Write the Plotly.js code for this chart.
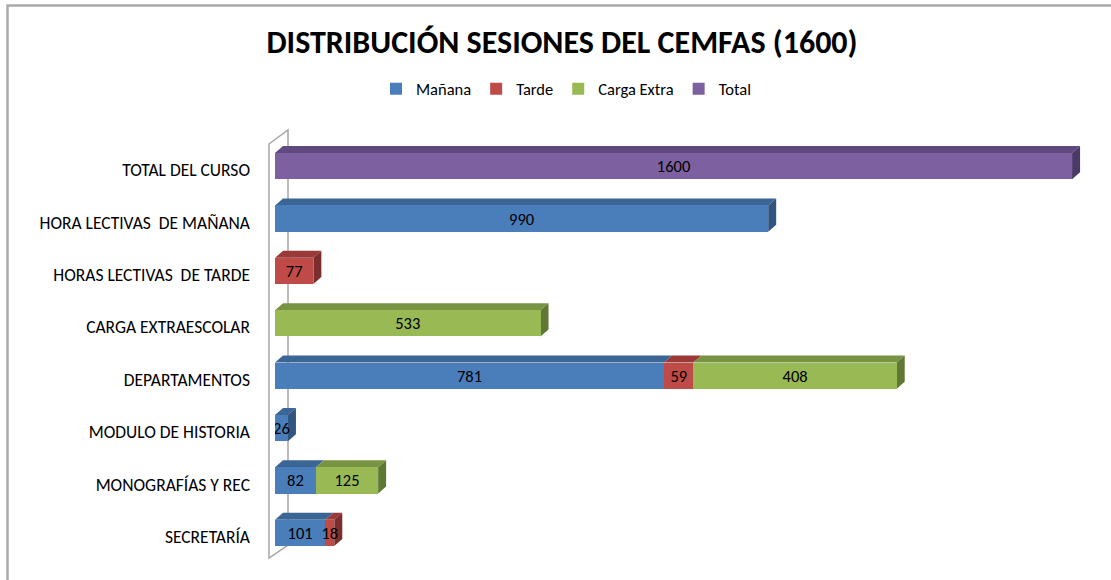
<!DOCTYPE html>
<html>
<head>
<meta charset="utf-8">
<script src="https://cdn.plot.ly/plotly-3.0.1.min.js"></script>
<style>
  html, body { margin: 0; padding: 0; background: #fff; }
  #chart { width: 1111px; height: 580px; }
</style>
</head>
<body>
<div id="chart"></div>
<script>
const categories = [
  "TOTAL DEL CURSO",
  "HORA LECTIVAS  DE MAÑANA",
  "HORAS LECTIVAS  DE TARDE",
  "CARGA EXTRAESCOLAR",
  "DEPARTAMENTOS",
  "MODULO DE HISTORIA",
  "MONOGRAFÍAS Y REC",
  "SECRETARÍA"
]
const manana     = [null, 990, null, null, 781, 26, 82, 101]
const tarde      = [null, null, 77, null, 59, null, null, 18]
const cargaExtra = [null, null, null, 533, 408, null, 125, null]
const total      = [1600, null, null, null, null, null, null, null]

const W = 1111, H = 580
const M = { l: 275, r: 19, t: 140, b: 21 }
const plotW = W - M.l - M.r
const plotH = H - M.t - M.b
const xMax = 1640
const barW = 0.5
const FONT = "Calibri, Carlito, 'Liberation Sans', Arial, sans-serif"

const series = [
  { name: "Mañana", values: manana, front: "#4a7ebb", top: "#3b6595", side: "#31557f" },
  { name: "Tarde", values: tarde, front: "#be4b48", top: "#9a3a38", side: "#7c2e2c" },
  { name: "Carga Extra", values: cargaExtra, front: "#98b954", top: "#789443", side: "#5f7834" },
  { name: "Total", values: total, front: "#7d60a0", top: "#5e4a7f", side: "#4b3a67" }
]

const ys = categories.map((c, i) => i)

const traces = series.map(s => ({
  type: "bar",
  orientation: "h",
  name: s.name,
  x: s.values,
  y: ys,
  width: barW,
  marker: { color: s.front, line: { width: 0 } },
  texttemplate: "%{x}",
  textposition: "inside",
  insidetextanchor: "middle",
  constraintext: "none",
  textangle: 0,
  textfont: { family: FONT, size: 16.5, color: "#000" },
  hoverinfo: "skip"
}))

// depth of the 3D faces, pixels turned into data units
const dx = 8 / (plotW / xMax)
const dy = 7 / (plotH / categories.length)

const shapes = []
categories.forEach((c, i) => {
  let cum = 0
  let last = null
  series.forEach(s => {
    const v = s.values[i]
    if (!v) return
    const x0 = cum, x1 = cum + v
    const yt = i - barW / 2
    shapes.push({
      type: "path", xref: "x", yref: "y", layer: "below",
      path: `M ${x0},${yt} L ${x0 + dx},${yt - dy} L ${x1 + dx},${yt - dy} L ${x1},${yt} Z`,
      fillcolor: s.top, line: { width: 0 }
    })
    cum = x1
    last = s
  })
  if (last) {
    const yt = i - barW / 2, yb = i + barW / 2
    shapes.push({
      type: "path", xref: "x", yref: "y", layer: "below",
      path: `M ${cum},${yt} L ${cum + dx},${yt - dy} L ${cum + dx},${yb - dy} L ${cum},${yb} Z`,
      fillcolor: last.side, line: { width: 0 }
    })
  }
})

// pixel -> paper helpers for the wall and frame
const px = v => (v - M.l) / plotW
const py = v => (H - M.b - v) / plotH
const wallPath = `M ${px(269)},${py(144)} L ${px(288)},${py(130)} L ${px(288)},${py(545)} L ${px(269)},${py(558)} Z`
shapes.push({
  type: "path", xref: "paper", yref: "paper", layer: "below",
  path: wallPath, line: { color: "#a6a6a6", width: 1.5 }, fillcolor: "rgba(0,0,0,0)"
})
shapes.push({
  type: "path", xref: "paper", yref: "paper", layer: "above",
  path: `M ${px(7.5)},${py(582)} L ${px(7.5)},${py(5.5)} L ${px(1112)},${py(5.5)}`,
  line: { color: "#a9a9ae", width: 2.5 }
})

const layout = {
  width: W,
  height: H,
  margin: M,
  paper_bgcolor: "#fff",
  plot_bgcolor: "rgba(0,0,0,0)",
  barmode: "stack",
  bargap: 0.5,
  font: { family: FONT, size: 16, color: "#000" },
  title: {
    text: "<b>DISTRIBUCIÓN SESIONES DEL CEMFAS (1600)</b>",
    font: { family: FONT, size: 32, color: "#000" },
    xref: "container", x: 562 / W, xanchor: "center",
    yref: "container", y: 1 - 42 / H, yanchor: "middle"
  },
  showlegend: true,
  legend: {
    orientation: "h",
    xref: "container", x: 566 / W, xanchor: "center",
    yref: "container", y: 1 - 89 / H, yanchor: "middle",
    font: { family: FONT, size: 16.5, color: "#000" },
    itemwidth: 30,
    traceorder: "normal"
  },
  xaxis: {
    range: [0, xMax],
    visible: false,
    fixedrange: true
  },
  yaxis: {
    range: [categories.length - 0.5, -0.5],
    tickmode: "array",
    tickvals: ys,
    ticktext: categories,
    ticks: "",
    ticklabelstandoff: 24,
    ticklabelshift: -4,
    showline: false,
    showgrid: false,
    zeroline: false,
    tickfont: { family: FONT, size: 17.5, color: "#000" },
    fixedrange: true
  },
  shapes: shapes
}

Plotly.newPlot("chart", traces, layout, { displayModeBar: false, staticPlot: true })
</script>
</body>
</html>
